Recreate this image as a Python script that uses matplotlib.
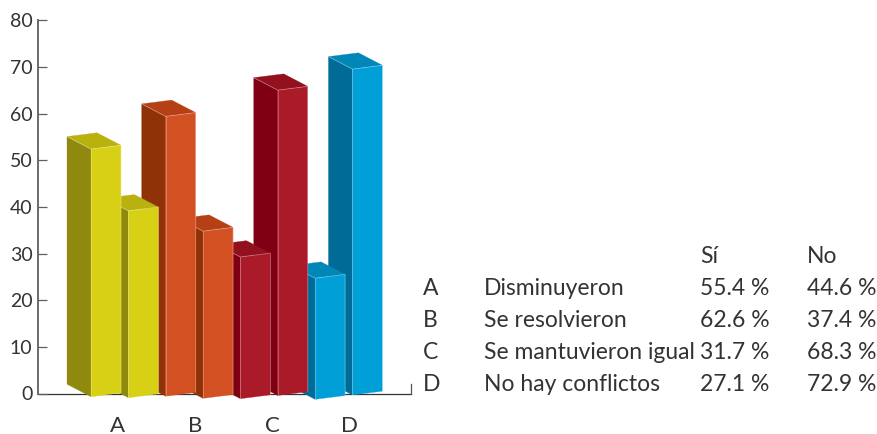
import matplotlib
matplotlib.use('Agg')
import matplotlib.pyplot as plt
from matplotlib.patches import Polygon

plt.rcParams['font.family'] = ['Lato', 'DejaVu Sans']

# values
groups = ['A', 'B', 'C', 'D']
si_drawn = [55.4, 62.6, 31.7, 27.1]
no_drawn = [41.8, 37.4, 68.3, 72.9]
y_ticks = [0, 10, 20, 30, 40, 50, 60, 70, 80]

# table
names = ['Disminuyeron', 'Se resolvieron', 'Se mantuvieron igual', 'No hay conflictos']
si_text = ['55.4 %', '62.6 %', '31.7 %', '27.1 %']
no_text = ['44.6 %', '37.4 %', '68.3 %', '72.9 %']

# colours: front, side, top
colors = [('#D8D015', '#8F8A0E', '#B8B10E'),
          ('#D35023', '#8F3208', '#B54015'),
          ('#AB1A28', '#7E0012', '#93101E'),
          ('#009FD8', '#006B96', '#0087B8')]

W, H = 878, 434
AX_L, AX_R = 38, 411
AX_B, AX_T = 393.5, 20.5
UNIT = (AX_B - AX_T) / 80      # px per axis unit
BAR_UNIT = 4.47                # the bars are drawn a bit shorter than the axis scale
TEXT = '#333333'

fig = plt.figure(figsize=(W / 100, H / 100), dpi=100)
ax = fig.add_axes([AX_L / W, 1 - AX_B / H, (AX_R - AX_L) / W, (AX_B - AX_T) / H])
ax.set_xlim(AX_L, AX_R)
ax.set_ylim(0, 80)


def py(px):
    # pixel row to axis value
    return (AX_B - px) / UNIT


def bar3d(x, base, value, cols):
    front, side, top = cols
    w, dx, dy, rise = 30, 24, 12.5, 3.8
    h = value * BAR_UNIT
    y0 = base
    y1 = base - h
    f = [(x, py(y0)), (x + w, py(y0 - rise)), (x + w, py(y1 - rise)), (x, py(y1))]
    s = [(x, py(y0)), (x, py(y1)), (x - dx, py(y1 - dy)), (x - dx, py(y0 - dy))]
    t = [(x, py(y1)), (x + w, py(y1 - rise)), (x + w - dx, py(y1 - rise - dy)), (x - dx, py(y1 - dy))]
    for pts, c in ((s, side), (t, top), (f, front)):
        ax.add_patch(Polygon(pts, closed=True, fc=c, ec=c, lw=0.2, clip_on=False, zorder=3))
    # thin light seams
    seam = [(x - dx, py(y1 - dy)), (x, py(y1)), (x + w, py(y1 - rise)), (x + w, py(y0 - rise))]
    ax.plot(*zip(*seam), color='white', alpha=0.35, lw=0.6, clip_on=False, zorder=3)
    ax.plot([x, x], [py(y1), py(y0)], color='white', alpha=0.3, lw=0.6, clip_on=False, zorder=3)


# slots along x, Si / No bar of each group
first_slot = [0, 2, 4, 6]
SLOT0, SLOT = 91, 37.35
bars = []
for i in range(4):
    bars.append((first_slot[i], si_drawn[i], colors[i]))
    bars.append((first_slot[i] + 1, no_drawn[i], colors[i]))

# right to left, the left bar covers the side of its neighbour
for slot, value, cols in sorted(bars, key=lambda b: -b[0]):
    x = SLOT0 + slot * SLOT
    if value > 50:
        base = 396.7 - (x - SLOT0) * 0.0066
    else:
        base = 397.7 + (x - SLOT0 - SLOT) * 0.0087
    bar3d(x, base, value, cols)

# axes
for s in ['top']:
    ax.spines[s].set_visible(False)
ax.spines['left'].set_color('#5f5f5f')
ax.spines['left'].set_linewidth(1.3)
ax.spines['bottom'].set_color('#333333')
ax.spines['bottom'].set_linewidth(0.9)
ax.spines['bottom'].set_zorder(1)
ax.spines['right'].set_bounds(0, 2)
ax.spines['right'].set_color('#555555')
ax.spines['right'].set_linewidth(0.9)

ax.set_yticks(y_ticks)
ax.tick_params(axis='y', direction='in', length=6.5, width=0.9, color='#5f5f5f',
               labelsize=14, labelcolor=TEXT, pad=4)
ax.set_xticks([118 + 77.3 * i for i in range(4)])
ax.set_xticklabels(groups)
ax.tick_params(axis='x', length=0, labelsize=16, labelcolor=TEXT, pad=16)

# table on the right, figure pixels
def txt(x, y, s):
    fig.text(x / W, 1 - y / H, s, fontsize=16.5, color=TEXT, va='baseline', ha='left')


txt(700, 263, 'Sí')
txt(807, 263, 'No')
for i in range(4):
    y = 295 + i * 32
    txt(423, y, groups[i])
    txt(484, y, names[i])
    txt(700, y, si_text[i])
    txt(807, y, no_text[i])

fig.savefig('out.png', dpi=100)
